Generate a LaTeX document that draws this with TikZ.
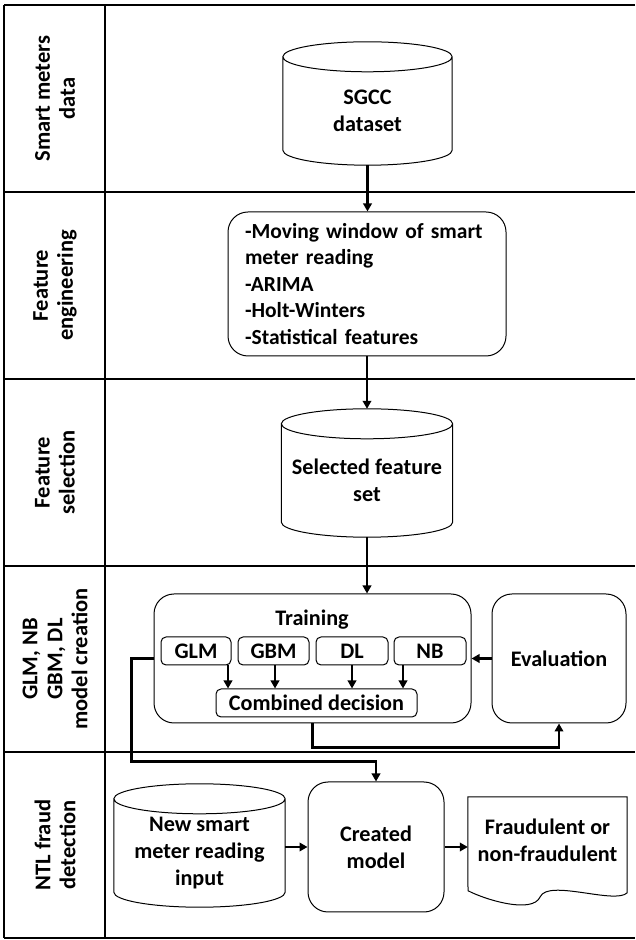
\documentclass[tikz,border=0pt]{standalone}
\usepackage{fontspec}
\setmainfont{Carlito}
\usetikzlibrary{arrows.meta,calc}

% database drum round a node (north edge = centre of top ellipse)
\newcommand{\dbcyl}[1]{%
  \draw[line width=1pt] let \p1=(#1.north west), \p2=(#1.south east), \n1={(\x2-\x1)/2} in
    (\x1,\y1) -- (\x1,\y2+15pt)
    arc[start angle=180, end angle=360, x radius=\n1, y radius=15pt]
    -- (\x2,\y1)
    arc[start angle=0, end angle=180, x radius=\n1, y radius=15pt]
    arc[start angle=180, end angle=360, x radius=\n1, y radius=15pt];}

\begin{document}
\begin{tikzpicture}[x=1pt, y=1pt,
    every node/.style={font=\bfseries\fontsize{22.2}{27}\selectfont, align=center},
    lane/.style={line width=1.3pt},
    lbl/.style={rotate=90, font=\bfseries\fontsize{22.5}{25}\selectfont},
    box/.style={draw, line width=1pt, rounded corners=20pt, inner sep=0pt},
    sub/.style={draw, line width=1pt, rounded corners=5pt, inner sep=0pt, minimum height=28pt},
    db/.style={inner sep=0pt},
    arr/.style={line width=2.8pt, -{Triangle[length=8pt,width=8.5pt]}}]
  \useasboundingbox (0,0) rectangle (635,940);

  % lanes
  \foreach \y in {935,748,561,374,188,2}
    \draw[lane] (4,\y) -- (635,\y);
  \draw[lane] (4,935) -- (4,2);
  \draw[lane] (105,935) -- (105,2);

  \node[lbl] (lab1) at (55,841.5) {Smart meters\\data};
  \node[lbl] (lab2) at (55,654.5) {Feature\\engineering};
  \node[lbl] (lab3) at (55,467.5) {Feature\\selection};
  \node[lbl] (lab4) at (55,281) {GLM, NB\\GBM, DL\\model creation};
  \node[lbl] (lab5) at (55,95) {NTL fraud\\detection};

  % smart meters data
  \node[db, minimum width=169pt, minimum height=108pt] (sgcc) at (367.5,829) {SGCC\\dataset};
  \dbcyl{sgcc}

  % feature engineering
  \node[box, text width=244pt, inner xsep=17pt, minimum height=144pt, align=left,
        font=\bfseries\fontsize{21.5}{26.5}\selectfont] (feat) at (367,656)
    {-Moving window of smart\\meter reading\\-ARIMA\\-Holt-Winters\\-Statistical features};

  % feature selection
  \node[db, minimum width=171pt, minimum height=113pt] (sel) at (367,459.5) {Selected feature\\set};
  \dbcyl{sel}

  % model creation
  \node[box, minimum width=317pt, minimum height=129pt] (train) at (312.5,281.5) {};
  \node (trainlbl) at (312,320) {Training};
  \node[sub, minimum width=70pt] (glm) at (196,289) {GLM};
  \node[sub, minimum width=71pt] (gbm) at (273.5,289) {GBM};
  \node[sub, minimum width=72pt] (dl) at (352,289) {DL};
  \node[sub, minimum width=72pt] (nb) at (430,289) {NB};
  \node[sub, minimum width=201pt] (comb) at (316.5,237) {Combined decision};
  \node[box, minimum width=134pt, minimum height=129pt] (eval) at (559,281.5) {Evaluation};

  % fraud detection
  \node[db, minimum width=171pt, minimum height=108pt] (newin) at (199.5,87) {New smart\\meter reading\\input};
  \dbcyl{newin}
  \node[box, minimum width=136pt, minimum height=130pt] (model) at (376,93) {Created\\model};
  \node[inner sep=0pt, minimum width=159pt, minimum height=86pt] (out) at (547.5,100) {Fraudulent or\\non-fraudulent};
  \draw[line width=1pt] (out.south west) -- (out.north west) -- (out.north east) -- ++(0,-96)
    .. controls ++(-12,-12) and ++(8,18) .. ++(-87,-4)
    .. controls ++(-8,-18) and ++(15,-8) .. ++(-72,6) -- (out.south west);

  % connectors
  \draw[arr] (sgcc.south) -- (sgcc.south |- feat.north);
  \draw[arr] (feat.south) -- ([yshift=15pt]feat.south |- sel.north);
  \draw[arr] (sel.south) -- (sel.south |- train.north);
  \draw[arr] ([xshift=32pt]glm.south) -- ([xshift=32pt]glm.south |- comb.north);
  \draw[arr] ([xshift=1.5pt]gbm.south) -- ([xshift=1.5pt]gbm.south |- comb.north);
  \draw[arr] (dl.south) -- (dl.south |- comb.north);
  \draw[arr] ([xshift=-27pt]nb.south) -- ([xshift=-27pt]nb.south |- comb.north);
  \draw[arr] (eval.west) -- (train.east);
  \draw[arr] (train.south) -- ++(0,-24) -| (eval.south);
  \draw[arr] (train.west) -- ++(-22,0) |- ([yshift=20pt]model.north) -- (model.north);
  \draw[arr] (newin.east |- model.west) -- (model.west);
  \draw[arr] (model.east) -- (model.east -| out.west);
\end{tikzpicture}
\end{document}
